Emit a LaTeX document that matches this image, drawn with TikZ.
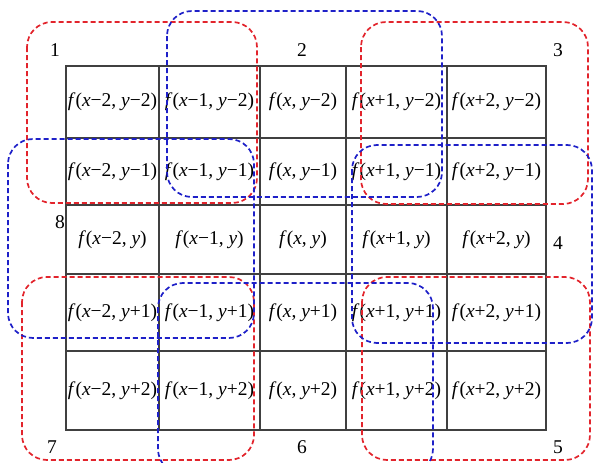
\documentclass[tikz,border=0pt]{standalone}
\usepackage{fontspec}
\setmainfont{Liberation Serif}
\usetikzlibrary{positioning}
\definecolor{winred}{RGB}{226,36,44}
\definecolor{winblue}{RGB}{30,32,200}
\newcommand{\fcell}[2]{\textit{f}(\textit{x}#1, \textit{y}#2)}

\begin{document}
\begin{tikzpicture}[x=1pt, y=-1pt,
  cell/.style={draw=black!75, line width=1.2pt, inner sep=0pt,
               font=\fontsize{19.5}{22}\selectfont},
  numlbl/.style={inner sep=0pt, font=\fontsize{19.5}{22}\selectfont},
  redwin/.style={winred, line width=1.7pt, dash pattern=on 5pt off 3pt,
                 rounded corners=25pt},
  bluewin/.style={winblue, line width=1.7pt, dash pattern=on 5pt off 3pt,
                  rounded corners=25pt},
]
\useasboundingbox (0,0) rectangle (595,463);

% 5x5 neighbourhood
\foreach \cx/\cw/\dx [count=\i] in {112.5/93/−2, 209.5/101/−1, 303/86/{},
                                     396.5/101/+1, 496.5/99/+2}
  \foreach \cy/\ch/\dy [count=\j] in {102/72/−2, 171.5/67/−1, 239.5/69/{},
                                       312.5/77/+1, 390.5/79/+2}
    \node[cell, minimum width=\cw pt, minimum height=\ch pt] (c\i\j)
      at (\cx,\cy) {\fcell{\dx}{\dy}};

% windows
\draw[redwin]  (27,22)   rectangle (257,203);
\draw[redwin]  (361,22)  rectangle (588,204);
\draw[redwin]  (362,277) rectangle (590,460);
\draw[redwin]  (22,277)  rectangle (254,460);
\draw[bluewin] (167,11)  rectangle (442,197);
\draw[bluewin] (352,145) rectangle (592,343);
\draw[bluewin] (158,283) rectangle (433,474);
\draw[bluewin] (8,139)   rectangle (254,338);

\node[numlbl] (n1) at (55,50)   {1};
\node[numlbl] (n2) at (302,50)  {2};
\node[numlbl] (n3) at (558,50)  {3};
\node[numlbl] (n4) at (558,243) {4};
\node[numlbl] (n5) at (558,447) {5};
\node[numlbl] (n6) at (302,447) {6};
\node[numlbl] (n7) at (52,447)  {7};
\node[numlbl] (n8) at (60,222)  {8};
\end{tikzpicture}
\end{document}
